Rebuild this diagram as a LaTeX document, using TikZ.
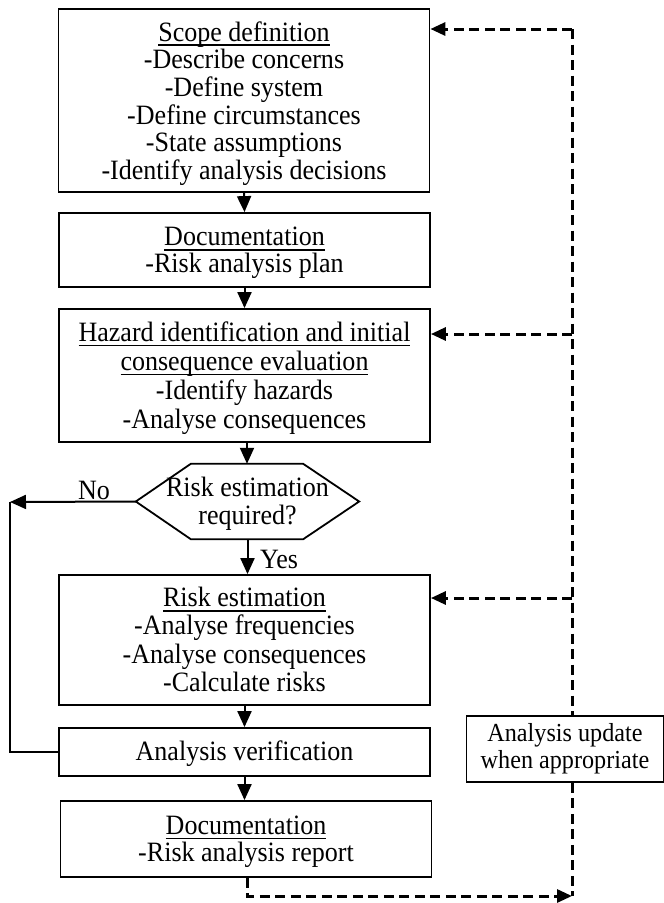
\documentclass[tikz,border=0pt]{standalone}
\usepackage{fontspec}
\setmainfont{Liberation Serif}[FakeStretch=0.93]
\usetikzlibrary{arrows.meta}
% underline that sits just below the baseline and crosses descenders
\newcommand\ulin[1]{\setbox0=\hbox{#1}\leavevmode
  \rlap{\vrule width\wd0 height -3.4pt depth 5pt}\box0}
\begin{document}
\begin{tikzpicture}[x=1pt,y=1pt,
  font=\fontsize{28}{28}\selectfont,
  box/.style={draw, line width=1.8pt, inner sep=0pt, minimum width=371pt},
  txt/.style={align=center, inner sep=0pt},
  flow/.style={line width=2pt, -{Triangle[length=16pt,width=14pt]}},
  upd/.style={line width=3pt, dash pattern=on 10pt off 5.5pt},
  updarrow/.style={upd, -{Triangle[length=15pt,width=13pt]}},
  lbl/.style={inner sep=0pt}]
\useasboundingbox (0,0) rectangle (664,-903);

% process boxes
\node[box, minimum height=183pt] (scope) at (244,-100.5) {};
\node[txt, font=\fontsize{28}{27.7}\selectfont] (scopetext)
  at ([yshift=-3pt]scope.center)
  {\ulin{Scope definition}\\-Describe concerns\\-Define system\\
   -Define circumstances\\-State assumptions\\-Identify analysis decisions};

\node[box, minimum height=74pt] (plan) at (244.5,-250) {};
\node[txt, font=\fontsize{28}{27.3}\selectfont] (plantext)
  at ([yshift=-3pt]plan.center)
  {\ulin{Documentation}\\-Risk analysis plan};

\node[box, minimum height=133pt] (hazard) at (244.5,-375.5) {};
\node[txt, font=\fontsize{28}{29}\selectfont] (hazardtext)
  at ([yshift=-2.5pt]hazard.center)
  {\ulin{Hazard identification and initial}\\
   \ulin{consequence evaluation}\\-Identify hazards\\-Analyse consequences};

% decision hexagon
\node[minimum width=223pt, minimum height=75pt, inner sep=0pt]
  (dec) at (247.5,-501.5) {};
\draw[line width=1.8pt] (dec.west) -- ([xshift=55pt]dec.north west)
  -- ([xshift=-56pt]dec.north east) -- (dec.east)
  -- ([xshift=-56pt]dec.south east) -- ([xshift=55pt]dec.south west) -- cycle;
\node[txt] (dectext) at ([yshift=-2pt]dec.center) {Risk estimation\\required?};

\node[box, minimum height=130pt] (risk) at (244.5,-640) {};
\node[txt, font=\fontsize{28}{28.3}\selectfont] (risktext)
  at ([yshift=0.5pt]risk.center)
  {\ulin{Risk estimation}\\-Analyse frequencies\\-Analyse consequences\\-Calculate risks};

\node[box, minimum height=48pt] (verif) at (244.5,-752) {};
\node[txt] (veriftext) at ([yshift=-1.5pt]verif.center) {Analysis verification};

\node[box, minimum height=76pt] (report) at (246,-839) {};
\node[txt, font=\fontsize{28}{27}\selectfont] (reporttext)
  at ([yshift=-2.5pt]report.center)
  {\ulin{Documentation}\\-Risk analysis report};

\node[draw, line width=1.8pt, inner sep=0pt,
  minimum width=197pt, minimum height=66pt] (update) at (565,-749) {};
\node[txt, font=\fontsize{26}{27.3}\selectfont] (updatetext)
  at (update.center) {Analysis update\\when appropriate};

% main flow
\draw[flow] (scope.south) -- (plan.north);
\draw[flow] (plan.south) -- (hazard.north);
\draw[flow] ([xshift=2.5pt]hazard.south) -- ([xshift=2.5pt]hazard.south |- dec.north);
\draw[flow] (dec.south) -- (dec.south |- risk.north);
\draw[flow] (risk.south) -- (verif.north);
\draw[flow] (verif.south) -- (verif.south |- report.north);

% "No" branch back to verification
\coordinate (nocorner) at (10,-502);
\draw[flow] (dec.west) -- (nocorner);
\draw[line width=1.2pt] (nocorner) |- (verif.west);
\node[lbl] (nolbl) at (94,-490) {No};
\node[lbl] (yeslbl) at (279,-559) {Yes};

% update loop
\coordinate (rail top) at (572,-29);
\coordinate (rail bottom) at (572,-896);
\coordinate (rep drop) at (247,-896);
\draw[upd] (rail top) -- (update.north -| rail top);
\draw[upd] (update.south -| rail bottom) -- (rail bottom);
\draw[updarrow] (rail top) -- (scope.east |- rail top);
\draw[updarrow] (572,-334) -- (hazard.east |- 0,-334);
\draw[updarrow] (572,-598) -- (risk.east |- 0,-598);
\draw[updarrow] (report.south -| rep drop) -- (rep drop) -- (rail bottom);
\end{tikzpicture}
\end{document}
